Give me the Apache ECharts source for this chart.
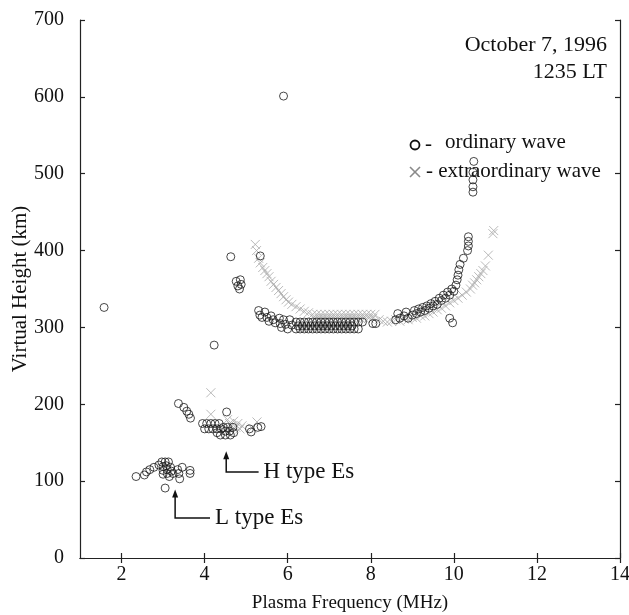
<!DOCTYPE html>
<html><head><meta charset="utf-8">
<script src="https://cdn.jsdelivr.net/npm/echarts@6/dist/echarts.min.js"></script>
<style>html,body{margin:0;padding:0;background:#fff}#c{width:629px;height:615px}</style>
</head><body><div id="c"></div>
<script>
// Axis settings
const xTicks = [2, 4, 6, 8, 10, 12, 14];
const yTicks = [0, 100, 200, 300, 400, 500, 600, 700];
const yTitle = 'Virtual Height (km)';
const xTitle = 'Plasma Frequency (MHz)';

// Ordinary wave (frequency MHz, virtual height km)
const ordinaryOutliers = [[1.58,326],[5.9,601],[4.23,277],[4.63,392],[4.76,360],[4.8,354],[4.84,350],[4.86,362],[4.88,356],[5.34,393]];
const ordinaryLtype = [[2.35,106],[2.55,108],[2.6,112],[2.68,115],[2.78,118],[2.9,121],[2.97,125],[3.0,119],[3.0,114],[3.0,109],[3.05,125],[3.08,120],[3.1,115],[3.1,110],[3.13,125],[3.15,106],[3.18,118],[3.2,113],[3.24,110],[3.35,115],[3.38,110],[3.4,103],[3.46,118],[3.65,114],[3.65,110],[3.05,91]];
const ordinaryHtype = [[3.37,201],[3.5,196],[3.57,191],[3.62,187],[3.66,182],
  [3.95,175],[4.0,168],[4.05,175],[4.1,168],[4.15,175],[4.2,168],[4.25,175],[4.3,168],[4.35,175],[4.4,168],
  [4.3,163],[4.38,160],[4.45,170],[4.5,165],[4.5,160],[4.55,170],[4.6,165],[4.62,160],[4.68,170],[4.7,163],[4.53,190],
  [5.08,168],[5.12,164],[5.28,170],[5.36,171]];
const ordinaryFlayer = [[5.3,322],[5.33,316],[5.38,313],[5.45,320],[5.5,313],[5.55,308],[5.6,315],[5.65,310],[5.7,306],[5.8,312],[5.82,305],[5.85,300],[5.9,310],[5.95,304],[6.0,298],[6.05,310],[6.1,303],
  [6.2,307],[6.3,307],[6.4,307],[6.5,307],[6.6,307],[6.7,307],[6.8,307],[6.9,307],[7.0,307],[7.1,307],[7.2,307],[7.3,307],[7.4,307],[7.5,307],[7.6,307],[7.7,307],[7.8,307],
  [6.25,302],[6.35,302],[6.45,302],[6.55,302],[6.65,302],[6.75,302],[6.85,302],[6.95,302],[7.05,302],[7.15,302],[7.25,302],[7.35,302],[7.45,302],[7.55,302],
  [6.2,298],[6.3,298],[6.4,298],[6.5,298],[6.6,298],[6.7,298],[6.8,298],[6.9,298],[7.0,298],[7.1,298],[7.2,298],[7.3,298],[7.4,298],[7.5,298],[7.6,298],[7.7,298],
  [8.05,305],[8.12,305],
  [8.6,310],[8.65,318],[8.7,312],[8.8,315],[8.85,320],[8.9,312],[9.0,316],[9.05,322],[9.1,318],[9.15,324],[9.2,320],[9.25,326],[9.3,322],[9.35,328],[9.4,325],[9.45,331],[9.5,328],[9.55,334],[9.6,330],[9.65,338],[9.7,335],[9.75,342],[9.8,338],[9.85,346],[9.9,342],[9.95,350],[10.0,347],[10.05,355],[10.08,362],[10.1,368],[10.12,375],[10.15,382],[10.23,390],[10.33,400],[10.35,406],[10.35,412],[10.35,418],
  [9.9,312],[9.97,306],[10.46,476],[10.46,483],[10.46,492],[10.46,502],[10.48,516]];

// Extraordinary wave
const extraHtype = [[4.15,215],[4.15,187],[4.55,180],[4.6,175],[4.65,172],[4.7,178],[4.75,170],[4.8,175],[4.85,168],[4.9,172],[5.14,169],[5.26,177]];
const extraFlayer = [[5.22,408],[5.25,400],[5.3,390],[5.34,384],[5.4,378],[5.45,374],[5.5,370],[5.55,366],[5.6,360],[5.66,356],[5.72,352],[5.78,348],[5.84,344],[5.9,340],[5.96,336],[6.02,333],[6.1,330],[6.2,327],[6.3,324],[6.4,321],[6.5,319],
  [6.6,317],[6.7,317],[6.8,317],[6.9,317],[7.0,317],[7.1,317],[7.2,317],[7.3,317],[7.4,317],[7.5,317],[7.6,317],[7.7,317],[7.8,317],[7.9,317],[8.0,317],[8.1,317],
  [6.65,312],[6.75,312],[6.85,312],[6.95,312],[7.05,312],[7.15,312],[7.25,312],[7.35,312],[7.45,312],[7.55,312],[7.65,312],[7.75,312],[7.85,312],[7.95,312],[8.05,312],
  [8.2,310],[8.3,308],[8.4,307],[8.5,308],[8.6,310],[8.7,308],[8.8,311],[8.9,310],[9.0,313],[9.1,312],[9.2,315],[9.3,315],[9.4,318],[9.5,320],[9.6,323],[9.7,325],[9.8,328],[9.9,332],[10.0,335],[10.1,338],[10.2,342],[10.3,346],[10.4,350],[10.45,355],[10.5,358],[10.55,362],[10.6,366],[10.65,370],[10.7,374],[10.76,380],[10.83,394],[10.94,422],[10.96,426]];

const ordinary = [].concat(ordinaryOutliers, ordinaryLtype, ordinaryHtype, ordinaryFlayer);
const extraordinary = [].concat(extraHtype, extraFlayer);

const SERIF = '"Liberation Serif", "DejaVu Serif", serif';
const chart = echarts.init(document.getElementById('c'));
const axisLine = {show: true, lineStyle: {color: '#222', width: 1.2}};
const tickX = {show: true, inside: true, length: 5, customValues: xTicks, lineStyle: {color: '#222', width: 1.2}};
const tickY = {show: true, inside: true, length: 5, customValues: yTicks, lineStyle: {color: '#222', width: 1.2}};
chart.setOption({
  animation: false,
  grid: {left: 80, right: 9, top: 20, bottom: 57, containLabel: false, outerBoundsMode: 'none'},
  xAxis: [
    {type: 'value', min: 1, max: 14, position: 'bottom',
     axisLine, axisTick: tickX,
     axisLabel: {customValues: xTicks, fontFamily: SERIF, fontSize: 20, color: '#111', margin: 7},
     splitLine: {show: false},
     name: xTitle, nameLocation: 'middle', nameGap: 36,
     nameTextStyle: {fontFamily: SERIF, fontSize: 19, color: '#111'}},
    {type: 'value', min: 1, max: 14, position: 'top',
     axisLine, axisTick: tickX, axisLabel: {show: false}, splitLine: {show: false}}
  ],
  yAxis: [
    {type: 'value', min: 0, max: 700, interval: 100, position: 'left',
     axisLine, axisTick: tickY,
     axisLabel: {fontFamily: SERIF, fontSize: 20, color: '#111', margin: 16},
     splitLine: {show: false}},
    {type: 'value', min: 0, max: 700, interval: 100, position: 'right',
     axisLine, axisTick: tickY, axisLabel: {show: false}, splitLine: {show: false}}
  ],
  series: [
    {type: 'scatter', name: 'extraordinary', data: extraordinary,
     symbol: 'path://M0,0L10,10M10,0L0,10', symbolSize: 9,
     itemStyle: {color: 'rgba(0,0,0,0)', borderColor: '#a8a8a8', borderWidth: 1}},
    {type: 'scatter', name: 'ordinary', data: ordinary,
     symbol: 'circle', symbolSize: 8,
     itemStyle: {color: 'rgba(0,0,0,0)', borderColor: '#1a1a1a', borderWidth: 1}}
  ]
});

// Annotations positioned through the axes
function P(f, h) { return chart.convertToPixel({xAxisIndex: 0, yAxisIndex: 0}, [f, h]); }
function arrowLabel(f, hTop, hBot, fEnd, text) {
  const a = P(f, hTop), b = P(f, hBot), c = P(fEnd, hBot);
  return [
    {type: 'polyline', shape: {points: [[a[0], a[1] + 6], b, c]}, style: {stroke: '#111', lineWidth: 1.5, fill: null}},
    {type: 'polygon', shape: {points: [[a[0], a[1]], [a[0] - 3, a[1] + 8], [a[0] + 3, a[1] + 8]]}, style: {fill: '#111'}},
    {type: 'text', x: c[0] + 5, y: c[1], style: {text: text, font: '23px ' + SERIF, fill: '#111', textVerticalAlign: 'middle'}}
  ];
}
const yMid = P(1, 350)[1];
const g = [].concat(
  arrowLabel(4.52, 139, 112, 5.3, 'H type Es'),
  arrowLabel(3.29, 89, 52, 4.13, 'L type Es'),
  [
    {type: 'text', x: 20, y: yMid, rotation: Math.PI / 2,
     style: {text: yTitle, font: '21px ' + SERIF, fill: '#111', textAlign: 'center', textVerticalAlign: 'middle'}},
    {type: 'text', x: 607, y: 45, style: {text: 'October 7, 1996', font: '22px ' + SERIF, fill: '#111', textAlign: 'right', textVerticalAlign: 'middle'}},
    {type: 'text', x: 607, y: 72, style: {text: '1235 LT', font: '22px ' + SERIF, fill: '#111', textAlign: 'right', textVerticalAlign: 'middle'}},
    {type: 'circle', shape: {cx: 415, cy: 145, r: 4.5}, style: {fill: null, stroke: '#111', lineWidth: 1.8}},
    {type: 'text', x: 425, y: 144, style: {text: '-', font: '21px ' + SERIF, fill: '#111', textVerticalAlign: 'middle'}},
    {type: 'text', x: 445, y: 142, style: {text: 'ordinary wave', font: '21px ' + SERIF, fill: '#111', textVerticalAlign: 'middle'}},
    {type: 'polyline', shape: {points: [[410, 167], [420, 177]]}, style: {stroke: '#8a8a8a', lineWidth: 1.6}},
    {type: 'polyline', shape: {points: [[420, 167], [410, 177]]}, style: {stroke: '#8a8a8a', lineWidth: 1.6}},
    {type: 'text', x: 426, y: 171, style: {text: '- extraordinary wave', font: '21px ' + SERIF, fill: '#111', textVerticalAlign: 'middle'}}
  ]
);
chart.setOption({graphic: g});
</script></body></html>
